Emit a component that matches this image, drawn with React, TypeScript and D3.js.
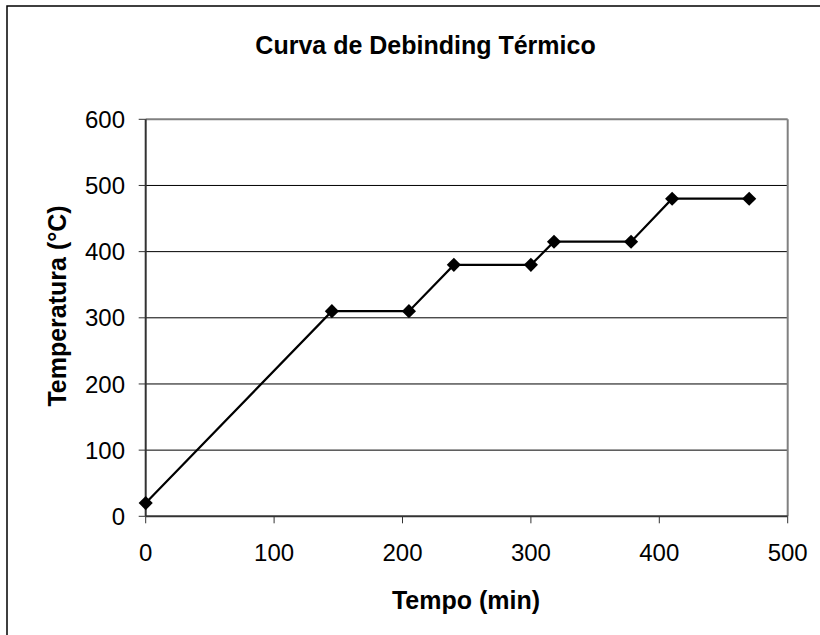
import React from "react";
import * as d3 from "d3";

const tempo = [0, 145, 205, 240, 300, 318, 378, 410, 470];
const temperatura = [20, 310, 310, 380, 380, 415, 415, 480, 480];
const xTicks = [0, 100, 200, 300, 400, 500];
const yTicks = [0, 100, 200, 300, 400, 500, 600];
const title = "Curva de Debinding Térmico";
const xLabel = "Tempo (min)";
const yLabel = "Temperatura (°C)";

export default function App() {
  const W = 820, H = 635;
  const L = 145.7, R = 787.7, T = 119.3, B = 516.3;
  const x = d3.scaleLinear().domain([0, 500]).range([L, R]);
  const y = d3.scaleLinear().domain([0, 600]).range([B, T]);
  const pts = tempo.map((t, i) => [t, temperatura[i]] as [number, number]);
  const line = d3.line<[number, number]>().x(d => x(d[0])).y(d => y(d[1]));
  const diamond = d3.symbol().type(d3.symbolSquare).size(100)();
  const font = "'Liberation Sans', Arial, sans-serif";
  return (
    <svg width={W} height={H} style={{ position: "absolute", left: 0, top: 0, background: "#fff" }} fontFamily={font}>
      <rect x={0} y={0} width={W} height={H} fill="#fff" />
      <rect x={7} y={6} width={W} height={H} fill="none" stroke="#000" strokeWidth={1.5} />
      <text x={425.5} y={54} textAnchor="middle" fontSize={25} fontWeight="bold">{title}</text>
      {yTicks.filter(v => v > 0 && v < 600).map(v => (
        <line key={"g" + v} x1={L} x2={R} y1={y(v)} y2={y(v)} stroke="#000" strokeWidth={1} />
      ))}
      <line x1={L} x2={R} y1={T} y2={T} stroke="#808080" strokeWidth={2} />
      <line x1={R} x2={R} y1={T} y2={B} stroke="#808080" strokeWidth={2} />
      <line x1={L} x2={L} y1={T} y2={B} stroke="#333" strokeWidth={2} />
      <line x1={L} x2={R} y1={B} y2={B} stroke="#333" strokeWidth={2} />
      {yTicks.map(v => (
        <g key={"y" + v}>
          <line x1={L - 7} x2={L} y1={y(v)} y2={y(v)} stroke="#333" strokeWidth={1} />
          <text x={125} y={y(v)} dy="0.36em" textAnchor="end" fontSize={24}>{v}</text>
        </g>
      ))}
      {xTicks.map(v => (
        <g key={"x" + v}>
          <line x1={x(v)} x2={x(v)} y1={B} y2={B + 7} stroke="#333" strokeWidth={1} />
          <text x={x(v)} y={B + 45} textAnchor="middle" fontSize={24}>{v}</text>
        </g>
      ))}
      <text x={466} y={609} textAnchor="middle" fontSize={25} fontWeight="bold">{xLabel}</text>
      <text transform={`translate(66,306) rotate(-90)`} textAnchor="middle" fontSize={25} fontWeight="bold">{yLabel}</text>
      <path d={line(pts) || ""} fill="none" stroke="#000" strokeWidth={2.2} />
      {pts.map((p, i) => (
        <path key={i} d={diamond || ""} transform={`translate(${x(p[0])},${y(p[1])}) rotate(45)`} fill="#000" />
      ))}
    </svg>
  );
}
